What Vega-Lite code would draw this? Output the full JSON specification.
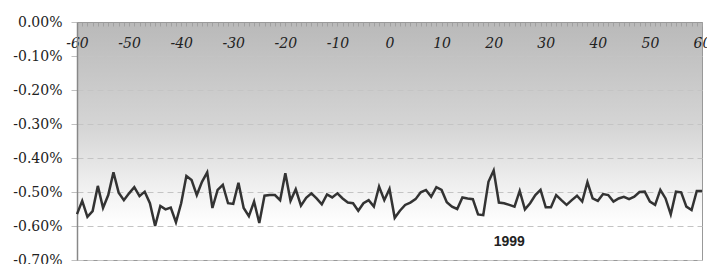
{
  "$schema": "https://vega.github.io/schema/vega-lite/v6.json",
  "width": 625,
  "height": 238,
  "autosize": "none",
  "padding": {"left": 77, "top": 22, "right": 5, "bottom": 4},
  "background": "white",
  "config": {
    "locale": {"number": {"decimal": ".", "thousands": ",", "grouping": [3], "currency": ["$", ""], "minus": "-"}},
    "view": {
      "stroke": "#999999",
      "strokeWidth": 1,
      "fill": {"gradient": "linear", "x1": 0, "y1": 0, "x2": 0, "y2": 1,
        "stops": [
          {"offset": 0, "color": "#b9b9b9"},
          {"offset": 0.45, "color": "#d6d6d6"},
          {"offset": 0.7, "color": "#f1f1f1"},
          {"offset": 0.85, "color": "#ffffff"},
          {"offset": 1, "color": "#ffffff"}
        ]}
    }
  },
  "data": {"values": [
      {"lag": -60, "r": -0.00565}, {"lag": -59, "r": -0.00526}, {"lag": -58, "r": -0.00573}, {"lag": -57, "r": -0.00556},
      {"lag": -56, "r": -0.00482}, {"lag": -55, "r": -0.00547}, {"lag": -54, "r": -0.00509}, {"lag": -53, "r": -0.00442},
      {"lag": -52, "r": -0.00502}, {"lag": -51, "r": -0.00524}, {"lag": -50, "r": -0.00504}, {"lag": -49, "r": -0.00486},
      {"lag": -48, "r": -0.00512}, {"lag": -47, "r": -0.00499}, {"lag": -46, "r": -0.00533}, {"lag": -45, "r": -0.00600},
      {"lag": -44, "r": -0.00541}, {"lag": -43, "r": -0.00551}, {"lag": -42, "r": -0.00546}, {"lag": -41, "r": -0.00589},
      {"lag": -40, "r": -0.00533}, {"lag": -39, "r": -0.00453}, {"lag": -38, "r": -0.00465}, {"lag": -37, "r": -0.00509},
      {"lag": -36, "r": -0.00470}, {"lag": -35, "r": -0.00442}, {"lag": -34, "r": -0.00547}, {"lag": -33, "r": -0.00494},
      {"lag": -32, "r": -0.00479}, {"lag": -31, "r": -0.00533}, {"lag": -30, "r": -0.00535}, {"lag": -29, "r": -0.00473},
      {"lag": -28, "r": -0.00547}, {"lag": -27, "r": -0.00571}, {"lag": -26, "r": -0.00528}, {"lag": -25, "r": -0.00591},
      {"lag": -24, "r": -0.00511}, {"lag": -23, "r": -0.00509}, {"lag": -22, "r": -0.00509}, {"lag": -21, "r": -0.00524},
      {"lag": -20, "r": -0.00445}, {"lag": -19, "r": -0.00526}, {"lag": -18, "r": -0.00492}, {"lag": -17, "r": -0.00540},
      {"lag": -16, "r": -0.00517}, {"lag": -15, "r": -0.00504}, {"lag": -14, "r": -0.00519}, {"lag": -13, "r": -0.00536},
      {"lag": -12, "r": -0.00507}, {"lag": -11, "r": -0.00516}, {"lag": -10, "r": -0.00504}, {"lag": -9, "r": -0.00519},
      {"lag": -8, "r": -0.00531}, {"lag": -7, "r": -0.00533}, {"lag": -6, "r": -0.00555}, {"lag": -5, "r": -0.00533},
      {"lag": -4, "r": -0.00524}, {"lag": -3, "r": -0.00543}, {"lag": -2, "r": -0.00484}, {"lag": -1, "r": -0.00524},
      {"lag": 0, "r": -0.00491}, {"lag": 1, "r": -0.00576}, {"lag": 2, "r": -0.00555}, {"lag": 3, "r": -0.00538},
      {"lag": 4, "r": -0.00531}, {"lag": 5, "r": -0.00521}, {"lag": 6, "r": -0.00501}, {"lag": 7, "r": -0.00494},
      {"lag": 8, "r": -0.00514}, {"lag": 9, "r": -0.00486}, {"lag": 10, "r": -0.00494}, {"lag": 11, "r": -0.00530},
      {"lag": 12, "r": -0.00543}, {"lag": 13, "r": -0.00550}, {"lag": 14, "r": -0.00516}, {"lag": 15, "r": -0.00519},
      {"lag": 16, "r": -0.00521}, {"lag": 17, "r": -0.00566}, {"lag": 18, "r": -0.00568}, {"lag": 19, "r": -0.00470},
      {"lag": 20, "r": -0.00437}, {"lag": 21, "r": -0.00531}, {"lag": 22, "r": -0.00533}, {"lag": 23, "r": -0.00538},
      {"lag": 24, "r": -0.00543}, {"lag": 25, "r": -0.00497}, {"lag": 26, "r": -0.00551}, {"lag": 27, "r": -0.00533},
      {"lag": 28, "r": -0.00509}, {"lag": 29, "r": -0.00494}, {"lag": 30, "r": -0.00545}, {"lag": 31, "r": -0.00545},
      {"lag": 32, "r": -0.00509}, {"lag": 33, "r": -0.00524}, {"lag": 34, "r": -0.00538}, {"lag": 35, "r": -0.00524},
      {"lag": 36, "r": -0.00511}, {"lag": 37, "r": -0.00528}, {"lag": 38, "r": -0.00471}, {"lag": 39, "r": -0.00519},
      {"lag": 40, "r": -0.00526}, {"lag": 41, "r": -0.00506}, {"lag": 42, "r": -0.00509}, {"lag": 43, "r": -0.00528},
      {"lag": 44, "r": -0.00519}, {"lag": 45, "r": -0.00514}, {"lag": 46, "r": -0.00521}, {"lag": 47, "r": -0.00514},
      {"lag": 48, "r": -0.00500}, {"lag": 49, "r": -0.00499}, {"lag": 50, "r": -0.00528}, {"lag": 51, "r": -0.00538},
      {"lag": 52, "r": -0.00494}, {"lag": 53, "r": -0.00519}, {"lag": 54, "r": -0.00566}, {"lag": 55, "r": -0.00499},
      {"lag": 56, "r": -0.00501}, {"lag": 57, "r": -0.00543}, {"lag": 58, "r": -0.00553}, {"lag": 59, "r": -0.00497},
      {"lag": 60, "r": -0.00497},
      {"lag": 23, "r": -0.00647, "label": "1999"}
  ]},
  "encoding": {
    "x": {
      "field": "lag", "type": "quantitative",
      "scale": {"domain": [-60, 60], "nice": false, "zero": false},
      "axis": {
        "orient": "top", "title": null, "grid": false,
        "values": [-60,-59,-58,-57,-56,-55,-54,-53,-52,-51,-50,-49,-48,-47,-46,-45,-44,-43,-42,-41,-40,-39,-38,-37,-36,-35,-34,-33,-32,-31,-30,-29,-28,-27,-26,-25,-24,-23,-22,-21,-20,-19,-18,-17,-16,-15,-14,-13,-12,-11,-10,-9,-8,-7,-6,-5,-4,-3,-2,-1,0,1,2,3,4,5,6,7,8,9,10,11,12,13,14,15,16,17,18,19,20,21,22,23,24,25,26,27,28,29,30,31,32,33,34,35,36,37,38,39,40,41,42,43,44,45,46,47,48,49,50,51,52,53,54,55,56,57,58,59,60],
        "labelExpr": "datum.value % 10 === 0 ? datum.label : ''",
        "labelOverlap": false,
        "labelFlush": false,
        "labelBound": false,
        "format": "d",
        "tickSize": -4,
        "tickColor": "#a0a0a0",
        "domainColor": "#999999",
        "labelPadding": -24,
        "labelFont": "DejaVu Serif",
        "labelFontStyle": "italic",
        "labelFontSize": 14,
        "labelColor": "#222222"
      }
    },
    "y": {
      "field": "r", "type": "quantitative",
      "scale": {"domain": [-0.007, 0], "nice": false, "zero": false},
      "axis": {
        "title": null,
        "values": [0, -0.001, -0.002, -0.003, -0.004, -0.005, -0.006, -0.007],
        "format": ".2%",
        "labelOverlap": false,
        "labelFlush": false,
        "labelBound": false,
        "grid": true,
        "gridColor": "#c4c4c4",
        "gridDash": [6, 4],
        "gridWidth": 1,
        "domainColor": "#888888",
        "domainWidth": 1.5,
        "tickSize": 6,
        "tickColor": "#c0c0c0",
        "labelPadding": 9,
        "labelFont": "DejaVu Serif",
        "labelFontSize": 14,
        "labelColor": "#222222"
      }
    }
  },
  "layer": [
    {
      "transform": [{"filter": "datum.label == null"}],
      "mark": {"type": "line", "color": "#333333", "strokeWidth": 2.5, "strokeJoin": "miter"}
    },
    {
      "transform": [{"filter": "datum.label != null"}],
      "mark": {"type": "text", "font": "Liberation Sans", "fontWeight": "bold", "fontSize": 14, "color": "#222222", "align": "center", "baseline": "middle"},
      "encoding": {"text": {"field": "label"}}
    }
  ]
}
